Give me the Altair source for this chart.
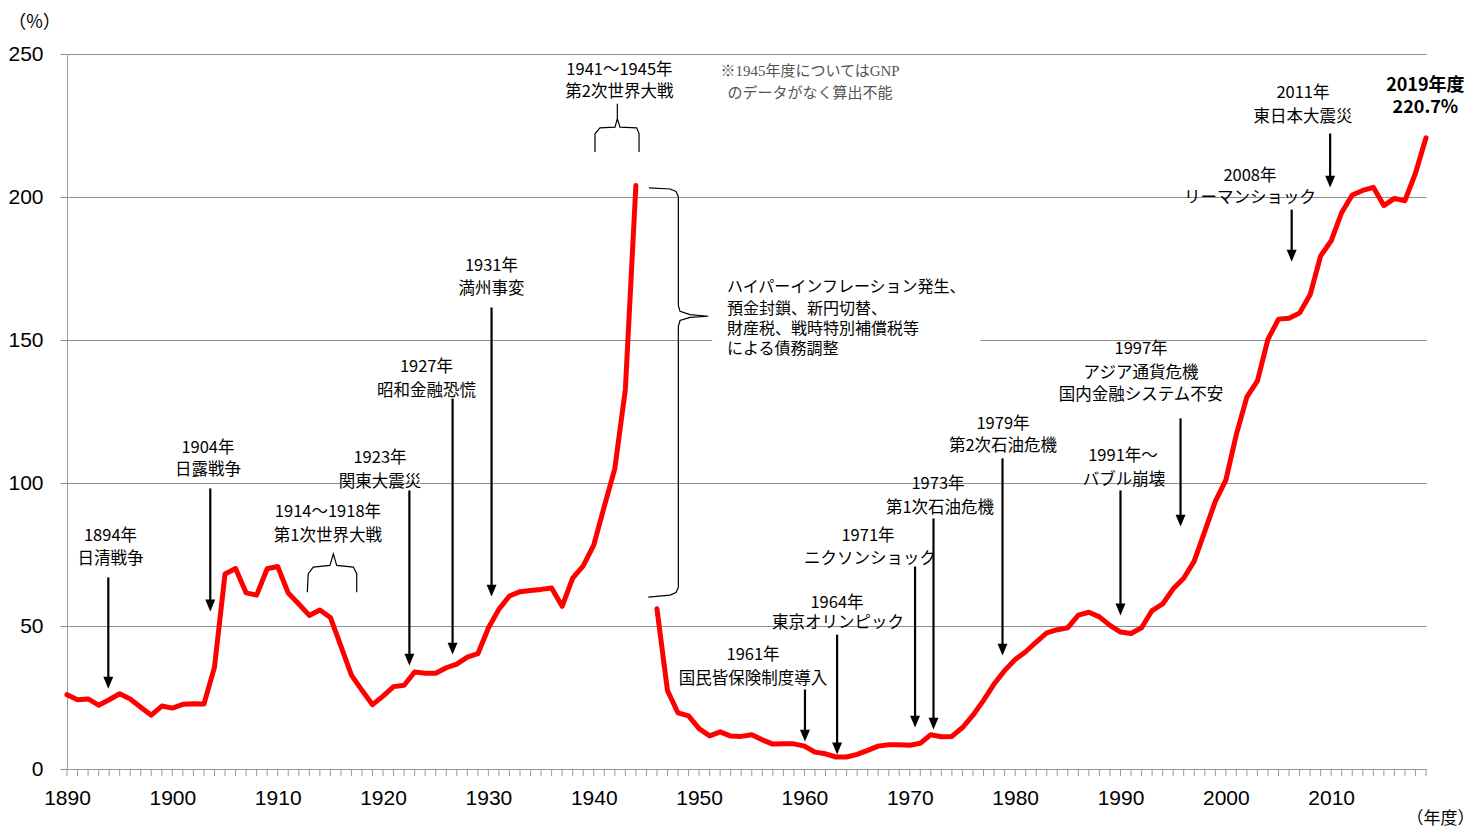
import altair as alt
import pandas as pd

# ---------------- data ----------------
years_pre = list(range(1890, 1945))
ratio_pre = [26.0, 24.2, 24.5, 22.3, 24.2, 26.3, 24.5, 21.6, 18.8, 22.0,
             21.3, 22.6, 22.8, 22.7, 35.6, 68.2, 70.1, 61.6, 60.8, 70.0,
             70.8, 61.5, 57.7, 53.7, 55.6, 53.0, 43.0, 32.8, 27.5, 22.5,
             25.5, 28.8, 29.3, 33.9, 33.5, 33.5, 35.4, 36.7, 39.1, 40.3,
             49.3, 55.9, 60.5, 62.0, 62.4, 62.8, 63.3, 56.9, 66.7, 71.0,
             78.3, 91.8, 105.0, 132.7, 204.0]
years_post = list(range(1946, 2020))
ratio_post = [56.0, 27.4, 19.6, 18.6, 14.1, 11.6, 13.0, 11.5, 11.4, 12.0,
              10.2, 8.7, 8.8, 8.8, 8.0, 5.9, 5.3, 4.2, 4.2, 5.1,
              6.5, 8.0, 8.5, 8.5, 8.3, 9.0, 12.0, 11.3, 11.4, 14.5,
              18.8, 24.0, 29.7, 34.4, 38.3, 41.0, 44.4, 47.6, 48.7, 49.4,
              53.8, 54.8, 53.2, 50.2, 47.9, 47.4, 49.4, 55.4, 57.7, 63.0,
              66.7, 72.7, 83.1, 93.6, 101.0, 117.0, 130.1, 135.7, 150.3, 157.3,
              157.6, 159.4, 165.8, 179.4, 184.7, 194.6, 200.7, 202.3, 203.4, 197.0,
              199.5, 198.7, 208.3, 220.7]

decade_labels = [1890, 1900, 1910, 1920, 1930, 1940, 1950, 1960, 1970, 1980, 1990, 2000, 2010]
tick_years = list(range(1890, 2020))
y_ticks = [0, 50, 100, 150, 200, 250]

# arrows: x position (year), start value, tip value
arrow_x = [1893.92, 1903.6, 1922.5, 1926.6, 1930.3, 1960.05, 1963.1,
           1970.5, 1972.25, 1978.8, 1990.0, 1995.7, 2006.25, 2009.9]
arrow_from = [67.0, 98.1, 97.4, 129.5, 161.4, 27.8, 47.0,
              70.8, 87.6, 108.6, 97.4, 122.6, 195.6, 222.2]
arrow_to = [28.1, 55.1, 36.2, 40.0, 60.3, 9.6, 5.1,
            14.5, 13.8, 39.7, 53.7, 84.8, 177.4, 203.3]

# centred annotation texts
label_text = ["1894年", "日清戦争",
              "1904年", "日露戦争",
              "1914～1918年", "第1次世界大戦",
              "1923年", "関東大震災",
              "1927年", "昭和金融恐慌",
              "1931年", "満州事変",
              "1941～1945年", "第2次世界大戦",
              "1961年", "国民皆保険制度導入",
              "1964年", "東京オリンピック",
              "1971年", "ニクソンショック",
              "1973年", "第1次石油危機",
              "1979年", "第2次石油危機",
              "1991年～", "バブル崩壊",
              "1997年", "アジア通貨危機", "国内金融システム不安",
              "2008年", "リーマンショック",
              "2011年", "東日本大震災"]
label_x = [1894.13, 1894.13,
           1903.38, 1903.38,
           1914.77, 1914.77,
           1919.71, 1919.71,
           1924.12, 1924.12,
           1930.29, 1930.29,
           1942.44, 1942.44,
           1955.12, 1955.12,
           1963.09, 1963.19,
           1966.03, 1966.22,
           1972.68, 1972.87,
           1978.85, 1978.85,
           1990.24, 1990.34,
           1991.95, 1991.95, 1991.95,
           2002.29, 2002.29,
           2007.32, 2007.32]
label_y = [81.6, 73.3,
           112.4, 104.4,
           89.7, 81.3,
           108.6, 100.5,
           140.4, 132.3,
           176.0, 168.0,
           244.5, 236.6,
           39.7, 31.6,
           58.2, 50.9,
           81.3, 73.6,
           99.5, 91.4,
           120.8, 112.8,
           109.3, 101.2,
           146.7, 138.6, 130.6,
           207.5, 199.5,
           236.2, 227.8]

# left-aligned explanation block
block_text = ["ハイパーインフレーション発生、", "預金封鎖、新円切替、",
              "財産税、戦時特別補償税等", "による債務調整"]
block_x = [1952.65, 1952.65, 1952.65, 1952.65]
block_y = [168.4, 161.0, 154.0, 146.7]

# note (grey, serif)
note_text = ["※1945年度についてはGNP", "のデータがなく算出不能"]
note_x = [1960.53, 1960.53]
note_y = [244.2, 236.2]

# final value label
final_text = ["2019年度", "220.7%"]
final_x = [2018.94, 2018.94]
final_y = [238.8, 231.0]

# braces (annotation geometry, in data units)
brace_name = (["ww1"] * 9) + (["ww2"] * 11) + (["post"] * 15)
brace_x = [1912.81, 1912.90, 1913.38, 1914.96, 1915.28, 1915.60, 1917.18, 1917.50, 1917.50,
           1940.12, 1940.12, 1940.59, 1942.02, 1942.24, 1942.24, 1942.24, 1942.49, 1944.08, 1944.30, 1944.30,
           1945.24, 1947.24, 1947.81, 1948.03, 1948.03, 1948.19, 1949.14, 1950.87, 1949.14, 1948.19,
           1948.03, 1948.03, 1947.81, 1947.24, 1945.18]
brace_y = [61.8, 68.3, 70.6, 71.2, 75.2, 71.2, 70.6, 68.3, 61.8,
           215.7, 222.1, 224.2, 224.4, 227.4, 232.6, 227.4, 224.4, 224.2, 222.1, 215.7,
           203.2, 202.8, 201.9, 200.2, 162.1, 160.0, 158.9, 158.3, 157.9, 156.8,
           154.7, 63.5, 61.7, 60.8, 60.1]

# white patch behind the explanation block (hides the 150 gridline there)
patch = pd.DataFrame({"x": [1951.25], "x2": [1976.7], "y": [147.0], "y2": [153.0]})

# ---------------- frames ----------------
debt = pd.DataFrame({
    "year": years_pre + years_post,
    "ratio": ratio_pre + ratio_post,
    "seg": ["pre"] * len(years_pre) + ["post"] * len(years_post),
})
arrows = pd.DataFrame({"x": arrow_x, "y": arrow_from, "tip": arrow_to})
arrows["shaft_end"] = arrows["tip"] + 3
labels = pd.DataFrame({"x": label_x, "y": label_y, "t": label_text})
block = pd.DataFrame({"x": block_x, "y": block_y, "t": block_text})
note = pd.DataFrame({"x": note_x, "y": note_y, "t": note_text})
final = pd.DataFrame({"x": final_x, "y": final_y, "t": final_text})
braces = pd.DataFrame({"x": brace_x, "y": brace_y, "b": brace_name,
                       "i": list(range(len(brace_x)))})
ticks = pd.DataFrame({"year": tick_years})

JP = "Noto Sans CJK JP"
AXIS_C = "#9a9a9a"
GRID_C = "#8e8e8e"

xscale = alt.Scale(domain=[1890, 2019], nice=False, zero=False)
yscale = alt.Scale(domain=[0, 250], nice=False, zero=True)

x_axis = alt.Axis(
    values=decade_labels, format="d",
    labelOverlap=False, labelFlush=False,
    grid=False, ticks=False, domainColor=AXIS_C,
    labelFont="Liberation Sans", labelFontSize=21, labelColor="#000",
    labelPadding=18,
    title="（年度）", titleFont=JP, titleFontSize=17, titleFontWeight="normal",
    titleAngle=0, titleX=1373, titleY=49, titleAlign="center", titleBaseline="middle",
)
y_axis = alt.Axis(
    values=y_ticks, grid=True, gridColor=GRID_C, gridWidth=1,
    tickSize=7, tickColor=GRID_C, domainColor=AXIS_C,
    labelFont="Liberation Sans", labelFontSize=21, labelColor="#000",
    labelPadding=17,
    title="（%）", titleFont=JP, titleFontSize=18, titleFontWeight="normal",
    titleAngle=0, titleX=-33, titleY=-32, titleAlign="center", titleBaseline="middle",
)

line = alt.Chart(debt).mark_line(color="#ff0000", strokeWidth=5, strokeJoin="round",
                                  strokeCap="round").encode(
    x=alt.X("year:Q", scale=xscale, axis=x_axis),
    y=alt.Y("ratio:Q", scale=yscale, axis=y_axis),
    detail="seg:N",
)

# yearly tick marks below the x axis
yearticks = alt.Chart(ticks).mark_rule(color=AXIS_C, strokeWidth=1).encode(
    x=alt.X("year:Q"),
    y=alt.value(715), y2=alt.value(722),
)

white = alt.Chart(patch).mark_rect(color="white").encode(
    x="x:Q", x2="x2:Q", y="y:Q", y2="y2:Q")

brace = alt.Chart(braces).mark_line(color="#000", strokeWidth=1.2).encode(
    x="x:Q", y="y:Q", detail="b:N", order="i:Q")

shafts = alt.Chart(arrows).mark_rule(color="#000", strokeWidth=2.2).encode(
    x="x:Q", y="y:Q", y2="shaft_end:Q")

heads = alt.Chart(arrows).mark_point(
    shape="M -0.42 -1 L 0.42 -1 L 0 0 Z", size=560, filled=True,
    color="#000", opacity=1, strokeWidth=0).encode(x="x:Q", y="tip:Q")

txt = alt.Chart(labels).mark_text(font=JP, fontSize=16.5, color="#000",
                                  align="center", baseline="middle").encode(
    x="x:Q", y="y:Q", text="t:N")

blk = alt.Chart(block).mark_text(font=JP, fontSize=16, color="#000",
                                 align="left", baseline="middle").encode(
    x="x:Q", y="y:Q", text="t:N")

nt = alt.Chart(note).mark_text(font="Liberation Serif, Noto Sans CJK JP", fontSize=15,
                               color="#555555", align="center", baseline="middle").encode(
    x="x:Q", y="y:Q", text="t:N")

fin = alt.Chart(final).mark_text(font=JP, fontSize=18, fontWeight="bold", color="#000",
                                 align="center", baseline="middle").encode(
    x="x:Q", y="y:Q", text="t:N")

chart = alt.layer(line, yearticks, white, brace, shafts, heads, txt, blk, nt, fin).properties(
    width=1359, height=715,
    autosize=alt.AutoSizeParams(type="none"),
    padding={"left": 67, "top": 54, "right": 57, "bottom": 58},
    background="white",
).configure_view(stroke=None).configure_axis(labelOverlap=False)

chart.save("out.html", embed_options={"renderer": "svg", "actions": False})
